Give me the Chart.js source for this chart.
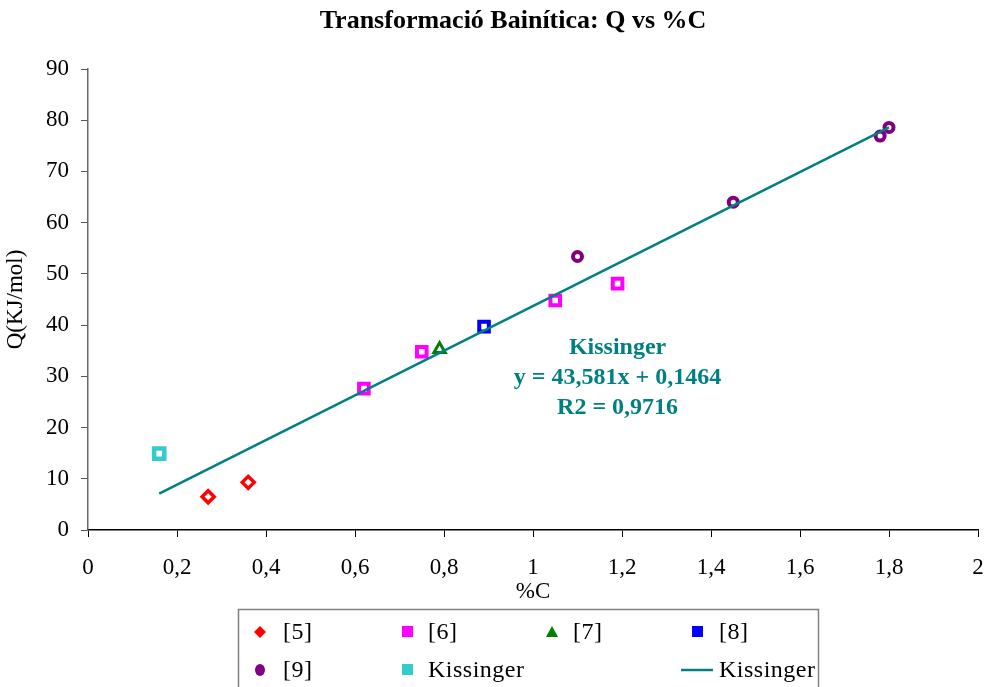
<!DOCTYPE html>
<html lang="ca">
<head>
    <meta charset="UTF-8">
    <title>Transformació Bainítica: Q vs %C</title>
    <script src="https://cdn.jsdelivr.net/npm/chart.js"></script>
    <style>
        body {
            margin: 0;
            background-color: #fff;
        }
        #qChart {
            display: block;
        }
    </style>
</head>
<body>
    <canvas id="qChart" width="986" height="687"></canvas>

    <script>
        // dades llegides del gràfic
        const c5 = [0.27, 0.36];
        const q5 = [6.5, 9.3];
        const c6 = [0.62, 0.75, 1.05, 1.19];
        const q6 = [27.6, 34.8, 44.8, 48.1];
        const c7 = [0.79];
        const q7 = [35.3];
        const c8 = [0.89];
        const q8 = [39.7];
        const c9 = [1.10, 1.45, 1.78, 1.80];
        const q9 = [53.4, 64.0, 76.9, 78.6];
        const cKiss = [0.16];
        const qKiss = [14.9];
        // recta de regressió (extrems)
        const cFit = [0.16, 1.80];
        const qFit = [7.1, 78.6];

        const seriesNames = ['[5]', '[6]', '[7]', '[8]', '[9]', 'Kissinger', 'Kissinger'];
        const equationLines = ['Kissinger', 'y = 43,581x + 0,1464', 'R2 = 0,9716'];

        const serif = "'Liberation Serif', 'Times New Roman', serif";

        function pts(xs, ys) {
            return xs.map((x, i) => ({ x: x, y: ys[i] }));
        }

        function markerSet(label, xs, ys, color, style, radius, bw) {
            return {
                label: label,
                data: pts(xs, ys),
                pointStyle: style,
                pointRadius: radius,
                pointHoverRadius: radius,
                borderColor: color,
                backgroundColor: '#fff',
                pointBorderWidth: bw,
                showLine: false
            };
        }

        const datasets = [
            {
                label: seriesNames[6],
                type: 'line',
                data: pts(cFit, qFit),
                borderColor: '#008080',
                borderWidth: 2.5,
                pointRadius: 0,
                fill: false
            },
            markerSet(seriesNames[0], c5, q5, '#ff0000', 'rectRot', 6, 3.5),
            markerSet(seriesNames[1], c6, q6, '#ff00ff', 'rect', 6.8, 4),
            markerSet(seriesNames[2], c7, q7, '#008000', 'triangle', 6.5, 3),
            markerSet(seriesNames[3], c8, q8, '#0000ff', 'rect', 6.8, 4),
            markerSet(seriesNames[4], c9, q9, '#800080', 'circle', 4.5, 4),
            markerSet(seriesNames[5], cKiss, qKiss, '#33cccc', 'rect', 7.2, 4.5)
        ];

        // llegenda i textos fixos
        const extras = {
            id: 'extras',
            afterDraw(chart) {
                const ctx = chart.ctx;
                const xs = chart.scales.x;
                const ys = chart.scales.y;
                ctx.save();

                // títol
                ctx.fillStyle = '#000';
                ctx.font = 'bold 26px ' + serif;
                ctx.textAlign = 'center';
                ctx.textBaseline = 'middle';
                ctx.fillText('Transformació Bainítica: Q vs %C', 513, 21);

                // equació
                ctx.fillStyle = '#008080';
                ctx.font = 'bold 24px ' + serif;
                const cx = xs.getPixelForValue(1.19);
                equationLines.forEach((t, i) => {
                    ctx.fillText(t, cx, ys.getPixelForValue(35.6) + i * 30);
                });

                // caixa llegenda
                ctx.strokeStyle = '#808080';
                ctx.lineWidth = 1.5;
                ctx.strokeRect(238.5, 609.5, 580, 100);

                const items = [
                    { name: seriesNames[0], color: '#ff0000', kind: 'diamond', mx: 260, tx: 283, y: 632 },
                    { name: seriesNames[1], color: '#ff00ff', kind: 'square', mx: 407, tx: 428, y: 632 },
                    { name: seriesNames[2], color: '#008000', kind: 'triangle', mx: 552, tx: 573, y: 632 },
                    { name: seriesNames[3], color: '#0000ff', kind: 'square', mx: 697, tx: 719, y: 632 },
                    { name: seriesNames[4], color: '#800080', kind: 'circle', mx: 260, tx: 283, y: 670 },
                    { name: seriesNames[5], color: '#33cccc', kind: 'square', mx: 407, tx: 428, y: 670 },
                    { name: seriesNames[6], color: '#008080', kind: 'line', mx: 697, tx: 719, y: 670 }
                ];
                ctx.font = '24px ' + serif;
                ctx.letterSpacing = '0.5px';
                ctx.textAlign = 'left';
                items.forEach(it => {
                    ctx.fillStyle = it.color;
                    ctx.strokeStyle = it.color;
                    ctx.beginPath();
                    if (it.kind === 'diamond') {
                        ctx.moveTo(it.mx, it.y - 6);
                        ctx.lineTo(it.mx + 6, it.y);
                        ctx.lineTo(it.mx, it.y + 6);
                        ctx.lineTo(it.mx - 6, it.y);
                        ctx.closePath();
                        ctx.fill();
                    } else if (it.kind === 'square') {
                        ctx.fillRect(it.mx - 5, it.y - 6, 11, 11);
                    } else if (it.kind === 'triangle') {
                        ctx.moveTo(it.mx, it.y - 6);
                        ctx.lineTo(it.mx + 6, it.y + 5);
                        ctx.lineTo(it.mx - 6, it.y + 5);
                        ctx.closePath();
                        ctx.fill();
                    } else if (it.kind === 'circle') {
                        ctx.ellipse(it.mx, it.y, 5, 6, 0, 0, Math.PI * 2);
                        ctx.fill();
                    } else {
                        ctx.lineWidth = 2.5;
                        ctx.moveTo(it.mx - 16, it.y);
                        ctx.lineTo(it.mx + 16, it.y);
                        ctx.stroke();
                    }
                    ctx.fillStyle = '#000';
                    ctx.fillText(it.name, it.tx, it.y + 1);
                });
                ctx.restore();
            }
        };

        const ctx = document.getElementById('qChart').getContext('2d');
        window.myChart = new Chart(ctx, {
            type: 'scatter',
            data: { datasets: datasets },
            plugins: [extras],
            options: {
                responsive: false,
                animation: false,
                layout: {
                    autoPadding: false,
                    padding: { top: 69, right: 8, bottom: 79, left: 0 }
                },
                plugins: {
                    legend: { display: false },
                    title: { display: false },
                    tooltip: { enabled: false }
                },
                scales: {
                    x: {
                        type: 'linear',
                        min: 0,
                        max: 2,
                        afterFit: s => {
                            s.height = 78;
                            s.paddingLeft = 0;
                            s.paddingRight = 0;
                        },
                        ticks: {
                            stepSize: 0.2,
                            padding: 17,
                            color: '#000',
                            font: { family: serif, size: 23 },
                            callback: v => (Math.round(v * 10) / 10).toString().replace('.', ',')
                        },
                        grid: {
                            drawOnChartArea: false,
                            drawTicks: true,
                            tickLength: 7,
                            color: '#000'
                        },
                        border: { color: '#000', width: 1.5 },
                        title: {
                            display: true,
                            text: '%C',
                            color: '#000',
                            font: { family: serif, size: 23 },
                            padding: { top: 0, bottom: 2 }
                        }
                    },
                    y: {
                        min: 0,
                        max: 90,
                        afterFit: s => { s.width = 88; },
                        ticks: {
                            stepSize: 10,
                            padding: 12,
                            color: '#000',
                            font: { family: serif, size: 23 }
                        },
                        grid: {
                            drawOnChartArea: false,
                            drawTicks: true,
                            tickLength: 7,
                            color: '#555'
                        },
                        border: { color: '#666', width: 1.5 },
                        title: {
                            display: true,
                            text: 'Q(KJ/mol)',
                            color: '#000',
                            font: { family: serif, size: 23 },
                            padding: { top: 2, bottom: 0 }
                        }
                    }
                }
            }
        });
    </script>
</body>
</html>
